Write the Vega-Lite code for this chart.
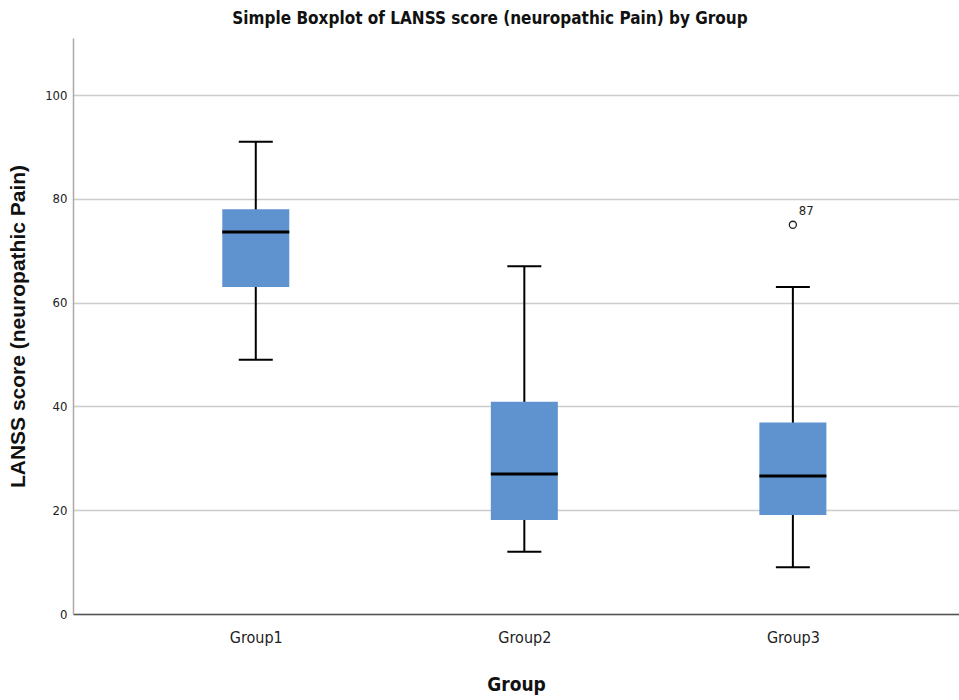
{
  "$schema": "https://vega.github.io/schema/vega-lite/v6.json",
  "autosize": "none",
  "width": 886,
  "height": 576,
  "padding": {"left": 73, "top": 38, "right": 0, "bottom": 86},
  "background": "white",
  "view": {"stroke": null},
  "title": {
    "text": "Simple Boxplot of LANSS score (neuropathic Pain) by Group",
    "font": "Liberation Sans Narrow, DejaVu Sans Condensed, Liberation Sans, sans-serif",
    "fontSize": 17,
    "fontWeight": "bold",
    "color": "#111111",
    "anchor": "middle",
    "dx": -26,
    "offset": 10
  },
  "datasets": {
    "boxes": [
      {"group": "Group1", "idx": 1, "lower": 49, "q1": 63, "median": 73.6, "q3": 78, "upper": 91},
      {"group": "Group2", "idx": 2, "lower": 12, "q1": 18.1, "median": 27, "q3": 40.9, "upper": 67},
      {"group": "Group3", "idx": 3, "lower": 9, "q1": 19.1, "median": 26.6, "q3": 36.9, "upper": 63}
    ],
    "outliers": [
      {"group": "Group3", "idx": 3, "value": 75, "label": "87"}
    ]
  },
  "data": {"name": "boxes"},
  "encoding": {
    "x": {
      "field": "idx",
      "type": "quantitative",
      "scale": {"domain": [0.338, 3.6], "nice": false, "zero": false},
      "axis": {
        "title": "Group",
        "values": [1, 2, 3],
        "labelExpr": "'Group' + datum.value",
        "titleFont": "Liberation Sans Narrow, DejaVu Sans Condensed, Liberation Sans, sans-serif",
        "titleFontSize": 19,
        "titleFontWeight": "bold",
        "titleColor": "#111111",
        "titlePadding": 30,
        "labelFont": "Liberation Sans Narrow, DejaVu Sans Condensed, Liberation Sans, sans-serif",
        "labelFontSize": 16,
        "labelColor": "#222222",
        "labelPadding": 15,
        "labelAngle": 0,
        "ticks": false,
        "domain": true,
        "domainColor": "#555555",
        "domainWidth": 1.5,
        "grid": false
      }
    }
  },
  "layer": [
    {
      "mark": {"type": "rule", "color": "black", "strokeWidth": 2},
      "encoding": {
        "y": {
          "field": "lower",
          "type": "quantitative",
          "scale": {"domain": [0, 111], "nice": false},
          "axis": {
            "title": "LANSS score (neuropathic Pain)",
            "titleFont": "Liberation Sans",
            "titleFontSize": 21,
            "titleFontWeight": "bold",
            "titleColor": "#111111",
            "titlePadding": 16,
            "values": [0, 20, 40, 60, 80, 100],
            "labelFont": "Liberation Sans Narrow, DejaVu Sans Condensed, Liberation Sans, sans-serif",
            "labelFontSize": 13,
            "labelColor": "#222222",
            "labelPadding": 6,
            "ticks": false,
            "domainColor": "#aaaaaa",
            "domainWidth": 1.5,
            "grid": true,
            "gridColor": "#cccccc",
            "gridWidth": 1.5
          }
        },
        "y2": {"field": "upper"}
      }
    },
    {
      "mark": {"type": "tick", "orient": "horizontal", "color": "black", "size": 34, "thickness": 2, "opacity": 1},
      "encoding": {"y": {"field": "lower", "type": "quantitative"}}
    },
    {
      "mark": {"type": "tick", "orient": "horizontal", "color": "black", "size": 34, "thickness": 2, "opacity": 1},
      "encoding": {"y": {"field": "upper", "type": "quantitative"}}
    },
    {
      "mark": {"type": "bar", "size": 67, "color": "#5f93cf", "orient": "vertical"},
      "encoding": {
        "y": {"field": "q1", "type": "quantitative"},
        "y2": {"field": "q3"}
      }
    },
    {
      "mark": {"type": "tick", "orient": "horizontal", "color": "black", "size": 67, "thickness": 3, "opacity": 1},
      "encoding": {"y": {"field": "median", "type": "quantitative"}}
    },
    {
      "data": {"name": "outliers"},
      "mark": {"type": "point", "shape": "circle", "filled": false, "color": "#222222", "size": 50, "strokeWidth": 1.3, "opacity": 1},
      "encoding": {"y": {"field": "value", "type": "quantitative"}}
    },
    {
      "data": {"name": "outliers"},
      "mark": {"type": "text", "font": "Liberation Sans Narrow, DejaVu Sans Condensed, Liberation Sans, sans-serif", "fontSize": 13, "color": "#222222", "dx": 6, "dy": -14, "align": "left", "baseline": "middle"},
      "encoding": {
        "y": {"field": "value", "type": "quantitative"},
        "text": {"field": "label"}
      }
    }
  ]
}
